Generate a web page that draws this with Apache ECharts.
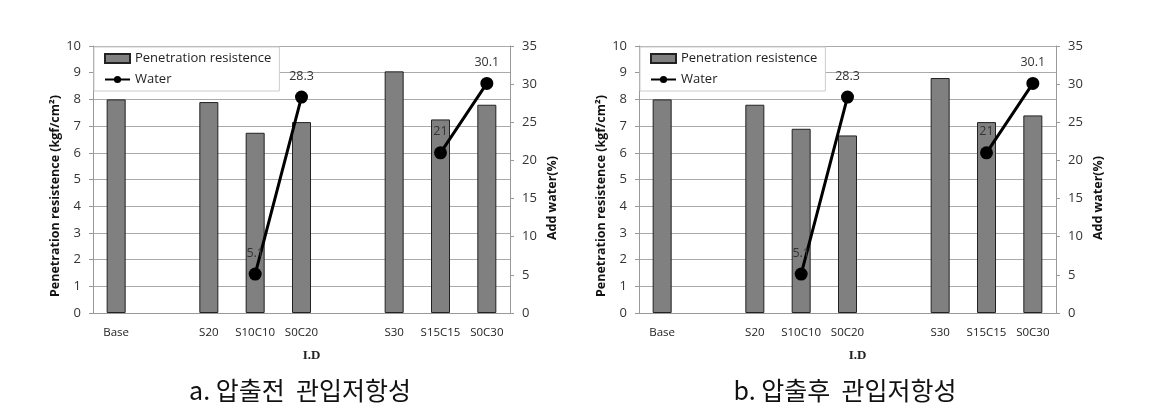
<!DOCTYPE html>
<html>
<head>
<meta charset="utf-8">
<script src="https://cdn.jsdelivr.net/npm/echarts@6/dist/echarts.min.js"></script>
<style>html,body{margin:0;padding:0;background:#fff}#c{width:1159px;height:414px}</style>
</head>
<body>
<div id="c"></div>
<script>
var categories = ['Base', '', 'S20', 'S10C10', 'S0C20', '', 'S30', 'S15C15', 'S0C30'];
var resistBefore = [8.0, null, 7.9, 6.75, 7.15, null, 9.05, 7.25, 7.8];
var resistAfter  = [8.0, null, 7.8, 6.9, 6.65, null, 8.8, 7.15, 7.4];
var water = [null, null, null, 5.1, 28.3, null, null, 21, 30.1];
var leftTicks = {min: 0, max: 10, interval: 1};
var rightTicks = {min: 0, max: 35, interval: 5};
var captions = ['a. 압출전  관입저항성', 'b. 압출후  관입저항성'];
var leftAxisName = 'Penetration resistence (kgf/cm²)';
var rightAxisName = 'Add water(%)';

var FONT = 'Open Sans';
var chart = echarts.init(document.getElementById('c'));
var grids = [
  {left: 93, top: 46, width: 417, height: 267},
  {left: 639, top: 46, width: 417, height: 267}
];
var xAxes = [], yAxes = [], series = [], legends = [], graphics = [];
[resistBefore, resistAfter].forEach(function (vals, i) {
  var g = grids[i];
  xAxes.push({
    type: 'category', gridIndex: i, data: categories,
    axisLine: {show: true, lineStyle: {color: '#999'}},
    axisTick: {show: false},
    axisLabel: {interval: 0, color: '#222', fontFamily: FONT, fontSize: 11.5, margin: 14},
    name: 'I.D', nameLocation: 'middle', nameGap: 36,
    nameTextStyle: {fontFamily: 'Liberation Serif', fontWeight: 'bold', fontSize: 13, color: '#222', padding: [0, 0, 0, 20]}
  });
  yAxes.push({
    type: 'value', gridIndex: i, position: 'left',
    min: leftTicks.min, max: leftTicks.max, interval: leftTicks.interval,
    axisLine: {show: true, lineStyle: {color: '#999'}},
    axisTick: {show: true, length: 4, lineStyle: {color: '#999'}},
    axisLabel: {color: '#333', fontFamily: FONT, fontSize: 13, margin: 12},
    splitLine: {show: true, lineStyle: {color: '#aaa', width: 1}}
  });
  yAxes.push({
    type: 'value', gridIndex: i, position: 'right',
    min: rightTicks.min, max: rightTicks.max, interval: rightTicks.interval,
    axisLine: {show: true, lineStyle: {color: '#999'}},
    axisTick: {show: true, length: 4, lineStyle: {color: '#999'}},
    axisLabel: {color: '#333', fontFamily: FONT, fontSize: 13, margin: 12},
    splitLine: {show: false}
  });
  series.push({
    name: 'Penetration resistence', type: 'bar', xAxisIndex: i, yAxisIndex: i * 2,
    data: vals, barWidth: 19,
    itemStyle: {color: '#808080', borderColor: '#222', borderWidth: 1}
  });
  series.push({
    name: 'Water', type: 'line', xAxisIndex: i, yAxisIndex: i * 2 + 1,
    data: water, connectNulls: false,
    symbol: 'circle', symbolSize: 13,
    lineStyle: {color: '#000', width: 3},
    itemStyle: {color: '#000'},
    label: {show: true, position: 'top', distance: 8, color: '#333', fontFamily: FONT, fontSize: 12.5}
  });
  legends.push({
    left: g.left + 1, top: g.top + 1, orient: 'vertical',
    backgroundColor: '#fff', borderColor: '#ccc', borderWidth: 1,
    padding: [5, 8, 5, 10], itemGap: 8, itemWidth: 25, itemHeight: 9,
    textStyle: {fontFamily: FONT, fontSize: 13, color: '#222'},
    data: [{name: 'Penetration resistence', icon: 'rect'}, {name: 'Water'}]
  });
  graphics.push({
    type: 'text', x: g.left - 38, y: g.top + 150, rotation: Math.PI / 2,
    style: {text: leftAxisName, font: 'bold 12.5px "Open Sans"', fill: '#111', align: 'center', verticalAlign: 'middle'}
  });
  graphics.push({
    type: 'text', x: g.left + g.width + 42, y: g.top + 152, rotation: Math.PI / 2,
    style: {text: rightAxisName, font: 'bold 12.5px "Open Sans"', fill: '#111', align: 'center', verticalAlign: 'middle'}
  });
  graphics.push({
    type: 'text', x: (i === 0 ? 300 : 845), y: 390,
    style: {text: captions[i], font: '25px "Noto Sans CJK KR"', fill: '#111', align: 'center', verticalAlign: 'middle'}
  });
});

chart.setOption({
  animation: false,
  grid: grids,
  xAxis: xAxes,
  yAxis: yAxes,
  legend: legends,
  series: series,
  graphic: graphics
});
</script>
</body>
</html>
